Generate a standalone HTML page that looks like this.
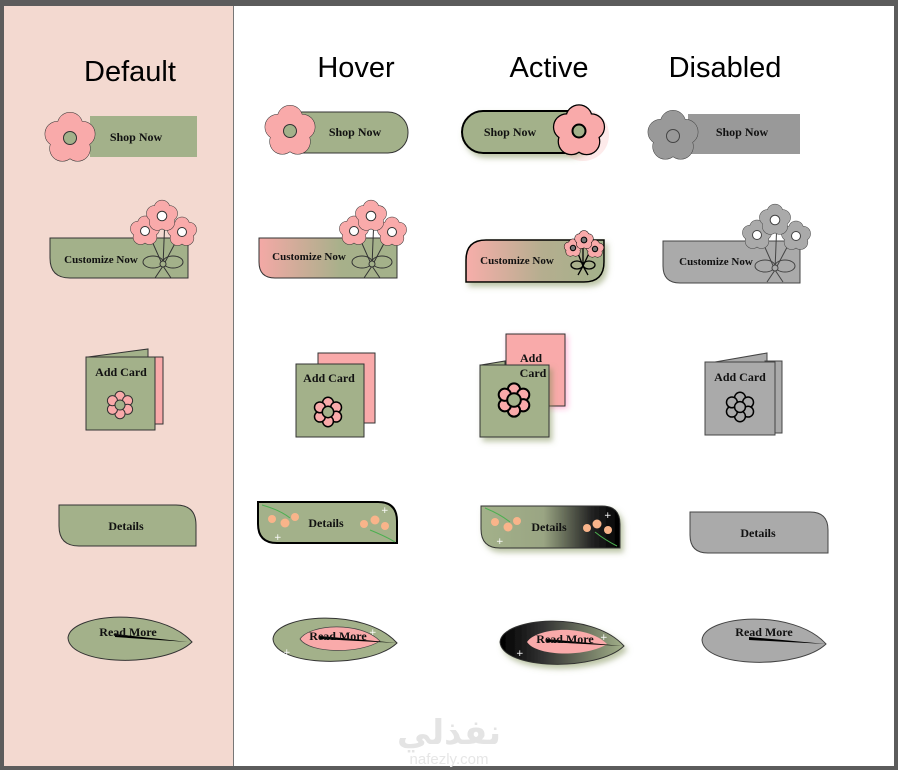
<!DOCTYPE html>
<html><head><meta charset="utf-8"><style>
html,body{margin:0;padding:0;background:#5c5c5c;}
svg{display:block}
.t{font-family:"Liberation Serif",serif;font-weight:bold;font-size:12px;fill:#111;text-anchor:middle}
.h{font-family:"Liberation Sans",sans-serif;font-size:29px;fill:#000;text-anchor:middle}
</style></head><body>
<svg width="898" height="770" viewBox="0 0 898 770" xmlns="http://www.w3.org/2000/svg">
<defs>
<g id="p5">
<circle vector-effect="non-scaling-stroke" cx="0" cy="-0.5" r="0.48"/>
<circle vector-effect="non-scaling-stroke" cx="0.476" cy="-0.155" r="0.48"/>
<circle vector-effect="non-scaling-stroke" cx="0.294" cy="0.405" r="0.48"/>
<circle vector-effect="non-scaling-stroke" cx="-0.294" cy="0.405" r="0.48"/>
<circle vector-effect="non-scaling-stroke" cx="-0.476" cy="-0.155" r="0.48"/>
</g>
<g id="p6">
<circle vector-effect="non-scaling-stroke" cx="0" cy="-0.62" r="0.36"/>
<circle vector-effect="non-scaling-stroke" cx="0.54" cy="-0.31" r="0.36"/>
<circle vector-effect="non-scaling-stroke" cx="0.54" cy="0.31" r="0.36"/>
<circle vector-effect="non-scaling-stroke" cx="0" cy="0.62" r="0.36"/>
<circle vector-effect="non-scaling-stroke" cx="-0.54" cy="0.31" r="0.36"/>
<circle vector-effect="non-scaling-stroke" cx="-0.54" cy="-0.31" r="0.36"/>
</g>
<linearGradient id="gpg" x1="0" x2="1"><stop offset="0" stop-color="#f4a9a6"/><stop offset="0.6" stop-color="#a7b08a"/><stop offset="1" stop-color="#a3b18a"/></linearGradient>
<linearGradient id="gpa" x1="0" x2="1"><stop offset="0" stop-color="#f7aeaa"/><stop offset="0.55" stop-color="#b5ae8f"/><stop offset="1" stop-color="#a3b18a"/></linearGradient>
<linearGradient id="gdk" x1="0" x2="1"><stop offset="0" stop-color="#a3b18a"/><stop offset="0.45" stop-color="#9aa583"/><stop offset="0.8" stop-color="#222"/><stop offset="1" stop-color="#000"/></linearGradient>
<linearGradient id="gdl" x1="0" x2="1"><stop offset="0" stop-color="#000"/><stop offset="0.35" stop-color="#333"/><stop offset="1" stop-color="#a3b18a"/></linearGradient>
<filter id="sh" x="-20%" y="-20%" width="150%" height="160%"><feDropShadow dx="3" dy="4" stdDeviation="3" flood-color="#7a8a50" flood-opacity="0.5"/></filter>
<filter id="shp" x="-20%" y="-20%" width="150%" height="160%"><feDropShadow dx="2" dy="2" stdDeviation="3" flood-color="#f38" flood-opacity="0.35"/></filter>
<path id="leaf" d="M-62,0 C-60,-25 30,-32 62,4 C35,30 -60,28 -62,0 Z"/>
</defs>

<rect x="4" y="6" width="890" height="760" fill="#fff"/>
<rect x="4" y="6" width="229" height="760" fill="#f3d9d0"/>
<line x1="233.5" y1="6" x2="233.5" y2="766" stroke="#777" stroke-width="1"/>

<text class="h" x="130" y="81">Default</text>
<text class="h" x="356" y="77">Hover</text>
<text class="h" x="549" y="77">Active</text>
<text class="h" x="725" y="77">Disabled</text>

<!-- ROW 1 -->
<rect x="90" y="116" width="107" height="41" fill="#a3b18a"/>
<g transform="translate(70,138) scale(26)"><use href="#p5" fill="#f9aaaa" stroke="#333" stroke-width="1"/><use href="#p5" fill="#f9aaaa" stroke="none"/><circle vector-effect="non-scaling-stroke" r="0.25" fill="#a3b18a" stroke="#333" stroke-width="1"/></g>
<text class="t" x="136" y="141">Shop Now</text>

<rect x="282" y="112" width="126" height="41" rx="20" fill="#a3b18a" stroke="#333"/>
<g transform="translate(290,131) scale(26)"><use href="#p5" fill="#f9aaaa" stroke="#333" stroke-width="1"/><use href="#p5" fill="#f9aaaa" stroke="none"/><circle vector-effect="non-scaling-stroke" r="0.25" fill="#a3b18a" stroke="#333" stroke-width="1"/></g>
<text class="t" x="355" y="136">Shop Now</text>

<g filter="url(#sh)"><rect x="462" y="111" width="128" height="42" rx="21" fill="#a3b18a" stroke="#000" stroke-width="2"/></g>
<circle cx="583" cy="135" r="26" fill="#f9aaaa" opacity="0.25"/>
<g transform="translate(579,131) scale(26)"><use href="#p5" fill="#f9aaaa" stroke="#000" stroke-width="2.5"/><use href="#p5" fill="#f9aaaa" stroke="none"/><circle vector-effect="non-scaling-stroke" r="0.25" fill="#a3b18a" stroke="#000" stroke-width="2"/></g>
<text class="t" x="510" y="136">Shop Now</text>

<rect x="688" y="114" width="112" height="40" fill="#999"/>
<g transform="translate(673,136) scale(26)"><use href="#p5" fill="#999" stroke="#444" stroke-width="1"/><use href="#p5" fill="#999" stroke="none"/><circle vector-effect="non-scaling-stroke" r="0.25" fill="#999" stroke="#444" stroke-width="1"/></g>
<text class="t" x="742" y="136">Shop Now</text>

<!-- ROW 2 -->
<path d="M50,238 H188 V278 H70 Q50,278 50,258 Z" fill="#a3b18a" stroke="#333"/>
<g transform="translate(163,238)" stroke="#333" fill="none" stroke-width="1"><path d="M0,28 L-16,-8 M0,28 L2,-22 M0,28 L18,-6 M0,28 L-8,40 M0,28 L8,40"/><ellipse cx="-10" cy="24" rx="10" ry="6"/><ellipse cx="10" cy="24" rx="10" ry="6"/><circle cx="0" cy="26" r="3" fill="#a3b18a"/></g>
<g transform="translate(145,231) scale(15)"><use href="#p5" fill="#f9aaaa" stroke="#333"/><use href="#p5" fill="#f9aaaa" stroke="none"/><circle r="0.3" fill="#fff" stroke="#333" vector-effect="non-scaling-stroke"/></g>
<g transform="translate(182,232) scale(15)"><use href="#p5" fill="#f9aaaa" stroke="#333"/><use href="#p5" fill="#f9aaaa" stroke="none"/><circle r="0.3" fill="#fff" stroke="#333" vector-effect="non-scaling-stroke"/></g>
<g transform="translate(162,216) scale(16)"><use href="#p5" fill="#f9aaaa" stroke="#333"/><use href="#p5" fill="#f9aaaa" stroke="none"/><circle r="0.3" fill="#fff" stroke="#333" vector-effect="non-scaling-stroke"/></g>
<text class="t" x="101" y="263" style="font-size:11px">Customize Now</text>

<path d="M259,238 H397 V278 H275 Q259,278 259,262 Z" fill="url(#gpg)" stroke="#333"/>
<g transform="translate(372,238)" stroke="#333" fill="none"><path d="M0,28 L-16,-8 M0,28 L2,-22 M0,28 L18,-6 M0,28 L-8,40 M0,28 L8,40"/><ellipse cx="-10" cy="24" rx="10" ry="6"/><ellipse cx="10" cy="24" rx="10" ry="6"/><circle cx="0" cy="26" r="3" fill="#a3b18a"/></g>
<g transform="translate(354,231) scale(15)"><use href="#p5" fill="#f9aaaa" stroke="#333"/><use href="#p5" fill="#f9aaaa" stroke="none"/><circle r="0.3" fill="#fff" stroke="#333" vector-effect="non-scaling-stroke"/></g>
<g transform="translate(392,232) scale(15)"><use href="#p5" fill="#f9aaaa" stroke="#333"/><use href="#p5" fill="#f9aaaa" stroke="none"/><circle r="0.3" fill="#fff" stroke="#333" vector-effect="non-scaling-stroke"/></g>
<g transform="translate(371,216) scale(16)"><use href="#p5" fill="#f9aaaa" stroke="#333"/><use href="#p5" fill="#f9aaaa" stroke="none"/><circle r="0.3" fill="#fff" stroke="#333" vector-effect="non-scaling-stroke"/></g>
<text class="t" x="309" y="260" style="font-size:11px">Customize Now</text>

<g filter="url(#sh)"><path d="M486,240 H604 V262 Q604,282 584,282 H466 V260 Q466,240 486,240 Z" fill="url(#gpa)" stroke="#000" stroke-width="1.5"/></g>
<g transform="translate(583,250)" stroke="#000" fill="none" stroke-width="1.3"><path d="M0,16 L-8,-4 M0,16 L0,-10 M0,16 L9,-3 M0,16 L-5,25 M0,16 L5,25"/><ellipse cx="-6" cy="15" rx="6" ry="4"/><ellipse cx="6" cy="15" rx="6" ry="4"/></g>
<g transform="translate(573,248) scale(9)"><use href="#p5" fill="#f9aaaa" stroke="#000"/><use href="#p5" fill="#f9aaaa" stroke="none"/><circle r="0.3" fill="#777" stroke="#000" vector-effect="non-scaling-stroke"/></g>
<g transform="translate(595,249) scale(9)"><use href="#p5" fill="#f9aaaa" stroke="#000"/><use href="#p5" fill="#f9aaaa" stroke="none"/><circle r="0.3" fill="#777" stroke="#000" vector-effect="non-scaling-stroke"/></g>
<g transform="translate(584,240) scale(9.5)"><use href="#p5" fill="#f9aaaa" stroke="#000"/><use href="#p5" fill="#f9aaaa" stroke="none"/><circle r="0.3" fill="#777" stroke="#000" vector-effect="non-scaling-stroke"/></g>
<text class="t" x="517" y="264" style="font-size:11px">Customize Now</text>

<path d="M663,241 H800 V283 H680 Q663,283 663,266 Z" fill="#aaa" stroke="#444"/>
<g transform="translate(775,242)" stroke="#444" fill="none"><path d="M0,28 L-16,-8 M0,28 L2,-22 M0,28 L18,-6 M0,28 L-8,40 M0,28 L8,40"/><ellipse cx="-10" cy="24" rx="10" ry="6"/><ellipse cx="10" cy="24" rx="10" ry="6"/><circle cx="0" cy="26" r="3" fill="#aaa"/></g>
<g transform="translate(757,235) scale(15)"><use href="#p5" fill="#aaa" stroke="#444"/><use href="#p5" fill="#aaa" stroke="none"/><circle r="0.3" fill="#fff" stroke="#444" vector-effect="non-scaling-stroke"/></g>
<g transform="translate(796,236) scale(15)"><use href="#p5" fill="#aaa" stroke="#444"/><use href="#p5" fill="#aaa" stroke="none"/><circle r="0.3" fill="#fff" stroke="#444" vector-effect="non-scaling-stroke"/></g>
<g transform="translate(775,220) scale(16)"><use href="#p5" fill="#aaa" stroke="#444"/><use href="#p5" fill="#aaa" stroke="none"/><circle r="0.3" fill="#fff" stroke="#444" vector-effect="non-scaling-stroke"/></g>
<text class="t" x="716" y="265" style="font-size:11px">Customize Now</text>

<!-- ROW 3 -->
<path d="M88,357 L148,349 V357 Z" fill="#a3b18a" stroke="#333"/>
<rect x="148" y="357" width="15" height="67" fill="#f9aaaa" stroke="#333"/>
<rect x="86" y="357" width="69" height="73" fill="#a3b18a" stroke="#333"/>
<text class="t" x="121" y="376">Add Card</text>
<g transform="translate(120,405) scale(14)"><use href="#p6" fill="#f9aaaa" stroke="#333"/><circle r="0.36" fill="#a3b18a" stroke="#333" vector-effect="non-scaling-stroke"/></g>

<rect x="318" y="353" width="57" height="70" fill="#f9aaaa" stroke="#333"/>
<rect x="296" y="364" width="68" height="73" fill="#a3b18a" stroke="#333"/>
<text class="t" x="329" y="382">Add Card</text>
<g transform="translate(328,412) scale(15)"><use href="#p6" fill="#f9aaaa" stroke="#000" stroke-width="1.5"/><circle r="0.38" fill="#a3b18a" stroke="#000" stroke-width="1.5" vector-effect="non-scaling-stroke"/></g>

<g filter="url(#shp)"><rect x="506" y="334" width="59" height="72" fill="#f9aaaa" stroke="#333"/></g>
<path d="M481,365 L505,361 V365 Z" fill="#a3b18a" stroke="#333"/>
<g filter="url(#sh)"><rect x="480" y="365" width="69" height="72" fill="#a3b18a" stroke="#333"/></g>
<text class="t" x="531" y="362">Add</text>
<text class="t" x="533" y="377">Card</text>
<g transform="translate(514,400) scale(17)"><use href="#p6" fill="#f9aaaa" stroke="#000" stroke-width="2"/><circle r="0.4" fill="#a3b18a" stroke="#000" stroke-width="2" vector-effect="non-scaling-stroke"/></g>

<path d="M715,362 L767,353 V362 Z" fill="#aaa" stroke="#444"/>
<rect x="765" y="361" width="17" height="72" fill="#aaa" stroke="#444"/>
<rect x="705" y="362" width="70" height="73" fill="#aaa" stroke="#444"/>
<text class="t" x="740" y="381">Add Card</text>
<g transform="translate(740,407) scale(15)"><use href="#p6" fill="#aaa" stroke="#000" stroke-width="1.5"/><circle r="0.36" fill="#aaa" stroke="#000" stroke-width="1.5" vector-effect="non-scaling-stroke"/></g>

<!-- ROW 4 -->
<path d="M59,505 H176 Q196,505 196,525 V546 H79 Q59,546 59,526 Z" fill="#a3b18a" stroke="#333"/>
<text class="t" x="126" y="530">Details</text>

<path d="M258,502 H378 Q397,502 397,521 V543 H277 Q258,543 258,524 Z" fill="#a3b18a" stroke="#000" stroke-width="2"/>
<path d="M262,505 Q280,510 290,518 M370,530 Q385,536 395,542" stroke="#4caf50" fill="none"/>
<g fill="#f9b48a"><circle cx="272" cy="519" r="4"/><circle cx="285" cy="523" r="4.5"/><circle cx="295" cy="517" r="4"/><circle cx="364" cy="524" r="4"/><circle cx="375" cy="520" r="4.5"/><circle cx="385" cy="526" r="4"/></g>
<text fill="#fff" font-size="9" x="274" y="540" font-family="DejaVu Sans">+</text><text fill="#fff" font-size="9" x="381" y="513" font-family="DejaVu Sans">+</text>
<text class="t" x="326" y="527">Details</text>

<g filter="url(#sh)"><path d="M481,506 H602 Q620,506 620,524 V548 H500 Q481,548 481,529 Z" fill="url(#gdk)" stroke="#333"/></g>
<path d="M485,508 Q500,514 510,522 M595,532 Q605,540 617,546" stroke="#4caf50" fill="none"/>
<g fill="#f9b48a"><circle cx="495" cy="522" r="4"/><circle cx="508" cy="527" r="4.5"/><circle cx="517" cy="521" r="4"/><circle cx="587" cy="528" r="4"/><circle cx="597" cy="524" r="4.5"/><circle cx="608" cy="530" r="4"/></g>
<text fill="#fff" font-size="9" x="496" y="544" font-family="DejaVu Sans">+</text><text fill="#fff" font-size="9" x="604" y="518" font-family="DejaVu Sans">+</text>
<text class="t" x="549" y="531">Details</text>

<path d="M690,512 H810 Q828,512 828,530 V553 H708 Q690,553 690,535 Z" fill="#aaa" stroke="#444"/>
<text class="t" x="758" y="537">Details</text>

<!-- ROW 5 -->
<g transform="translate(130,638)">
<use href="#leaf" fill="#a3b18a" stroke="#333"/>
<path d="M-15,-4 L58,4 L-15,-1 Z" fill="#000"/>
</g>
<text class="t" x="128" y="636">Read More</text>

<g transform="translate(335,639)">
<use href="#leaf" fill="#a3b18a" stroke="#333"/>
<path d="M-35,0 C-25,-15 25,-18 45,2 C25,15 -25,15 -35,0 Z" fill="#f9aaaa" stroke="#444" stroke-width="0.7"/>
<path d="M-15,-3 L62,4 L-15,0 Z" fill="#000"/>
<text fill="#fff" font-size="9" x="-52" y="16" font-family="DejaVu Sans">+</text><text fill="#fff" font-size="9" x="34" y="-4" font-family="DejaVu Sans">+</text>
</g>
<text class="t" x="338" y="640">Read More</text>

<g transform="translate(562,642)" filter="url(#sh)">
<use href="#leaf" fill="url(#gdl)" stroke="#333"/>
<path d="M-35,0 C-25,-15 25,-18 45,2 C25,15 -25,15 -35,0 Z" fill="#f9aaaa"/>
<path d="M-15,-3 L60,4 L-15,0 Z" fill="#000"/>
<text fill="#fff" font-size="9" x="-46" y="14" font-family="DejaVu Sans">+</text><text fill="#fff" font-size="9" x="38" y="-2" font-family="DejaVu Sans">+</text>
</g>
<text class="t" x="565" y="643">Read More</text>

<g transform="translate(764,640)">
<use href="#leaf" fill="#aaa" stroke="#444"/>
<path d="M-15,-3 L62,4 L-15,0 Z" fill="#000"/>
</g>
<text class="t" x="764" y="636">Read More</text>

<text x="449" y="744" text-anchor="middle" font-family="'Noto Sans CJK SC','DejaVu Sans',sans-serif" font-weight="bold" font-size="34" fill="#e4e4e4">نفذلي</text>
<text x="449" y="764" text-anchor="middle" font-family="'Liberation Sans',sans-serif" font-size="15" fill="#e6e6e6">nafezly.com</text>
</svg>
</body></html>
